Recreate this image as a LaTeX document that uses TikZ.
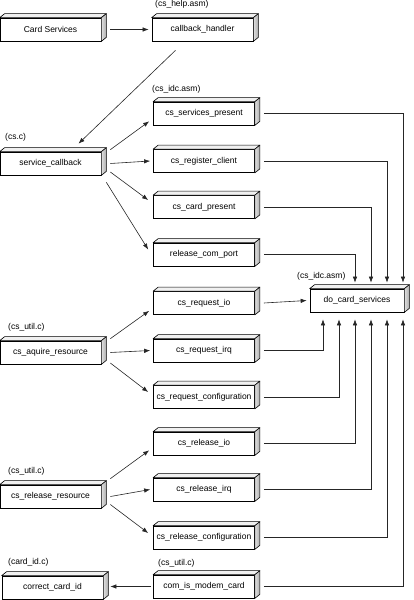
\documentclass[tikz,border=0pt]{standalone}
\usepackage{fontspec}
\setmainfont{Liberation Sans}
\usetikzlibrary{arrows.meta,calc}
\begin{document}
\begin{tikzpicture}[x=1pt,y=-1pt,
  cbox/.style={draw=black,line width=0.7pt,fill=white,minimum width=101pt,minimum height=23pt,inner sep=0pt,font=\fontsize{8.5}{10}\selectfont},
  lbl/.style={anchor=west,inner sep=0pt,font=\fontsize{8.5}{10}\selectfont},
  arr/.style={draw=black!85,line width=0.6pt,-{Latex[length=6pt,width=4.5pt]}},
  topface/.style={fill=gray!12,draw=black,line width=0.6pt,line join=round},
  sideface/.style={left color=gray!25,right color=gray!65,draw=black,line width=0.6pt,line join=round}
]
\useasboundingbox (0,0) rectangle (414,600);
% boxes
\node[cbox] (cardsvc) at (50.5,29.5) {Card Services};
\node[cbox] (cbh) at (202.5,29.5) {callback\_handler};
\node[cbox] (csp) at (204,113.5) {cs\_services\_present};
\node[cbox] (svc) at (50.5,163.5) {service\_callback};
\node[cbox] (crc) at (204,161) {cs\_register\_client};
\node[cbox] (ccp) at (204,207) {cs\_card\_present};
\node[cbox] (rcp) at (204,254.5) {release\_com\_port};
\node[cbox,minimum width=94pt] (dcs) at (357,300.5) {do\_card\_services};
\node[cbox] (crio) at (204,303) {cs\_request\_io};
\node[cbox] (aq) at (50.5,352.5) {cs\_aquire\_resource};
\node[cbox] (crirq) at (204,350.5) {cs\_request\_irq};
\node[cbox] (crcfg) at (204,397) {cs\_request\_configuration};
\node[cbox] (rlio) at (204,443.5) {cs\_release\_io};
\node[cbox] (rlirq) at (204,489.5) {cs\_release\_irq};
\node[cbox] (rlres) at (50.5,496.5) {cs\_release\_resource};
\node[cbox] (rlcfg) at (204,537.5) {cs\_release\_configuration};
\node[cbox] (cimc) at (204,586.5) {com\_is\_modem\_card};
\node[cbox] (cci) at (52.5,587.5) {correct\_card\_id};
% 3D faces
\foreach \n in {cardsvc,cbh,csp,svc,crc,ccp,rcp,dcs,crio,aq,crirq,crcfg,rlio,rlirq,rlres,rlcfg,cimc,cci}{
  \path[topface] (\n.north west) -- ([shift={(5,-4)}]\n.north west) -- ([shift={(5,-4)}]\n.north east) -- (\n.north east) -- cycle;
  \path[sideface] (\n.north east) -- ([shift={(5,-4)}]\n.north east) -- ([shift={(5,-4)}]\n.south east) -- (\n.south east) -- cycle;
}
% labels
\node[lbl] (l1) at (155,4.5) {(cs\_help.asm)};
\node[lbl] (l2) at (152,89) {(cs\_idc.asm)};
\node[lbl] (l3) at (5,137) {(cs.c)};
\node[lbl] (l4) at (297,276) {(cs\_idc.asm)};
\node[lbl] (l5) at (8,327) {(cs\_util.c)};
\node[lbl] (l6) at (8,471) {(cs\_util.c)};
\node[lbl] (l7) at (8,562) {(card\_id.c)};
\node[lbl] (l8) at (158,563) {(cs\_util.c)};
% connectors
\draw[arr] ([xshift=9pt]cardsvc.east) -- ([xshift=-3pt]cbh.west);
\draw[arr] ([shift={(-27,9)}]cbh.south) -- ([shift={(28,-8)}]svc.north);
\draw[arr] ([shift={(9,-2)}]svc.north east) -- ([shift={(-4,-4)}]csp.south west);
\draw[arr] ([xshift=9pt]svc.east) -- ([xshift=-3pt]crc.west);
\draw[arr] ([shift={(9,8.5)}]svc.east) -- ([shift={(-5,-7)}]ccp.west);
\draw[arr] ([shift={(5,7)}]svc.south east) -- ([shift={(-5,-5)}]rcp.west);
\draw[arr] ([xshift=9pt]csp.east) -| ([shift={(46,-6)}]dcs.north);
\draw[arr] ([xshift=9pt]crc.east) -| ([shift={(30,-6)}]dcs.north);
\draw[arr] ([xshift=9pt]ccp.east) -| ([shift={(14,-6)}]dcs.north);
\draw[arr] ([xshift=9pt]rcp.east) -| ([shift={(-2,-6)}]dcs.north);
\draw[arr] ([xshift=9pt]crio.east) -- ([xshift=-3pt]dcs.west);
\draw[arr] ([shift={(9,-2)}]aq.north east) -- ([shift={(-4,-4)}]crio.south west);
\draw[arr] ([xshift=9pt]aq.east) -- ([xshift=-3pt]crirq.west);
\draw[arr] ([shift={(9,10.5)}]aq.east) -- ([shift={(-5,-5)}]crcfg.west);
\draw[arr] ([xshift=9pt]crirq.east) -| ([shift={(-34,7)}]dcs.south);
\draw[arr] ([xshift=9pt]crcfg.east) -| ([shift={(-18,7)}]dcs.south);
\draw[arr] ([xshift=9pt]rlio.east) -| ([shift={(-2,7)}]dcs.south);
\draw[arr] ([xshift=9pt]rlirq.east) -| ([shift={(14,7)}]dcs.south);
\draw[arr] ([xshift=9pt]rlcfg.east) -| ([shift={(30,7)}]dcs.south);
\draw[arr] ([xshift=9pt]cimc.east) -| ([shift={(46,7)}]dcs.south);
\draw[arr] ([shift={(9,-6)}]rlres.north east) -- ([shift={(-4,-5)}]rlio.south west);
\draw[arr] ([xshift=9pt]rlres.east) -- ([xshift=-3pt]rlirq.west);
\draw[arr] ([shift={(9,8)}]rlres.east) -- ([shift={(-5,-4.5)}]rlcfg.west);
\draw[arr] ([xshift=-2pt]cimc.west) -- ([xshift=7pt]cimc.west -| cci.east);
\end{tikzpicture}
\end{document}
